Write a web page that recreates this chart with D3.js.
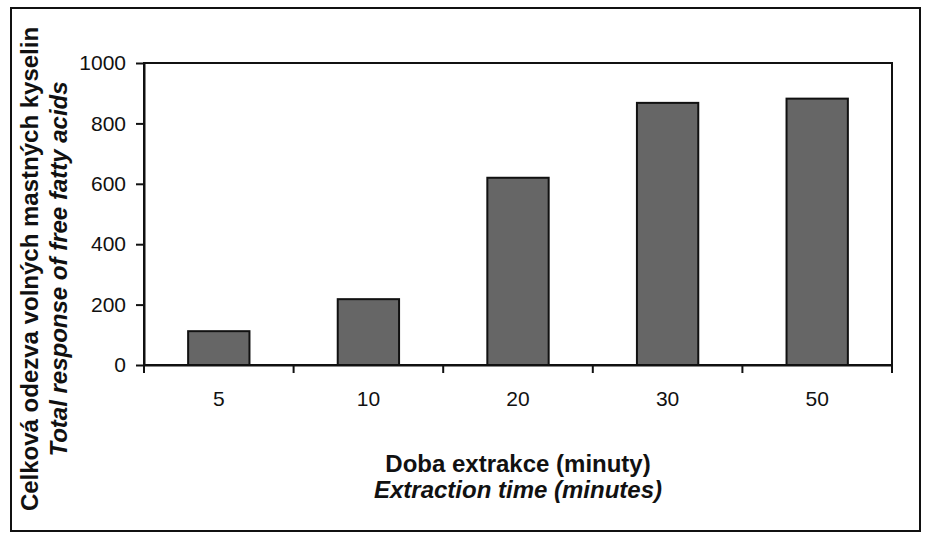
<!DOCTYPE html>
<html>
<head>
<meta charset="utf-8">
<script src="https://cdn.jsdelivr.net/npm/d3@7"></script>
<style>
  body { margin: 0; background: #fff; }
  text { font-family: "Liberation Sans", Arial, sans-serif; fill: #111; }
</style>
</head>
<body>
<svg id="chart" width="927" height="540"></svg>
<script>
// data
const categories = ["5", "10", "20", "30", "50"];
const values = [112, 218, 620, 868, 882];
const yTicks = [0, 200, 400, 600, 800, 1000];

const svg = d3.select("#chart");
const margin = { left: 144, right: 35, top: 63, bottom: 175 };
const width = 927, height = 540;

// outer frame
svg.append("rect")
  .attr("x", 11).attr("y", 8)
  .attr("width", 909).attr("height", 523)
  .attr("fill", "none")
  .attr("stroke", "#111")
  .attr("stroke-width", 2);

const x = d3.scaleBand()
  .domain(categories)
  .range([margin.left, width - margin.right]);

const y = d3.scaleLinear()
  .domain([0, 1000])
  .range([height - margin.bottom, margin.top]);

// plot box
svg.append("rect")
  .attr("x", margin.left).attr("y", margin.top)
  .attr("width", width - margin.right - margin.left)
  .attr("height", y(0) - margin.top)
  .attr("fill", "none")
  .attr("stroke", "#111")
  .attr("stroke-width", 2);

// bars
const barW = x.bandwidth() * 0.41;
svg.selectAll("rect.bar")
  .data(values)
  .enter()
  .append("rect")
  .attr("class", "bar")
  .attr("x", (d, i) => x(categories[i]) + (x.bandwidth() - barW) / 2)
  .attr("y", d => y(d))
  .attr("width", barW)
  .attr("height", d => y(0) - y(d))
  .attr("fill", "#666666")
  .attr("stroke", "#111")
  .attr("stroke-width", 2);

// y axis
const yAxis = svg.append("g")
  .attr("transform", `translate(${margin.left},0)`)
  .call(d3.axisLeft(y).tickValues(yTicks).tickFormat(d3.format("d"))
    .tickSize(8).tickPadding(10).tickSizeOuter(0));
yAxis.select(".domain").attr("stroke", "#111").attr("stroke-width", 2);
yAxis.selectAll(".tick line").attr("stroke", "#111").attr("stroke-width", 2);
yAxis.selectAll(".tick text")
  .attr("font-size", 21)
  .attr("font-family", "Liberation Sans, Arial, sans-serif")
  .attr("fill", "#111");

// x axis: ticks at category boundaries
const xAxis = svg.append("g")
  .attr("transform", `translate(0,${y(0)})`)
  .call(d3.axisBottom(x).tickSize(0).tickPadding(26));
xAxis.select(".domain").attr("stroke", "#111").attr("stroke-width", 2);
xAxis.selectAll(".tick text")
  .attr("font-size", 21)
  .attr("font-family", "Liberation Sans, Arial, sans-serif")
  .attr("fill", "#111");

const bounds = categories.map(c => x(c)).concat([x.range()[1]]);
xAxis.selectAll("line.sep")
  .data(bounds)
  .enter()
  .append("line")
  .attr("class", "sep")
  .attr("x1", d => d).attr("x2", d => d)
  .attr("y1", 0).attr("y2", 8)
  .attr("stroke", "#111")
  .attr("stroke-width", 2);

// axis titles
const xMid = (margin.left + width - margin.right) / 2;
svg.append("text")
  .attr("x", xMid).attr("y", 472)
  .attr("text-anchor", "middle")
  .attr("font-size", 24).attr("font-weight", "bold")
  .text("Doba extrakce (minuty)");
svg.append("text")
  .attr("x", xMid).attr("y", 498)
  .attr("text-anchor", "middle")
  .attr("font-size", 24).attr("font-weight", "bold").attr("font-style", "italic")
  .text("Extraction time (minutes)");

svg.append("text")
  .attr("transform", "translate(38,269) rotate(-90)")
  .attr("text-anchor", "middle")
  .attr("font-size", 24).attr("font-weight", "bold")
  .text("Celková odezva volných mastných kyselin");
svg.append("text")
  .attr("transform", "translate(67,269) rotate(-90)")
  .attr("text-anchor", "middle")
  .attr("font-size", 24).attr("font-weight", "bold").attr("font-style", "italic")
  .text("Total response of free fatty acids");
</script>
</body>
</html>
